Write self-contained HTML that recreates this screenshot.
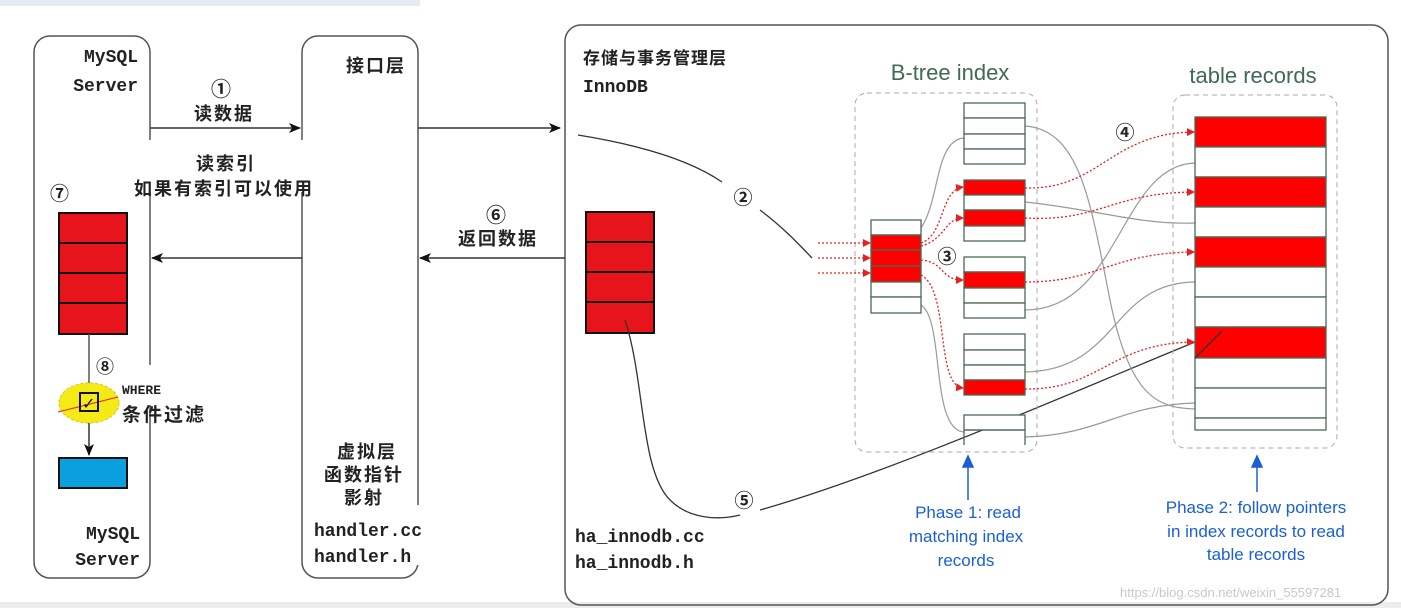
<!DOCTYPE html>
<html><head><meta charset="utf-8"><style>
html,body{margin:0;padding:0;background:#fff;width:1401px;height:608px;overflow:hidden}
svg{display:block}
.cn{font-family:"Liberation Sans","WenQuanYi Zen Hei","Noto Sans CJK SC",sans-serif;font-weight:bold;fill:#222}
.mono{font-family:"Liberation Mono",monospace;font-weight:bold;fill:#222}
.sans{font-family:"Liberation Sans","DejaVu Sans",sans-serif}
</style></head><body>
<svg width="1401" height="608" viewBox="0 0 1401 608" xmlns="http://www.w3.org/2000/svg">
<defs>
<marker id="ab" markerWidth="12" markerHeight="10" refX="11" refY="5" orient="auto" markerUnits="userSpaceOnUse"><path d="M0,0 L12,5 L0,10 L3,5z" fill="#111"/></marker>
<marker id="ar" markerWidth="8" markerHeight="8" refX="7" refY="4" orient="auto" markerUnits="userSpaceOnUse"><path d="M0,0 L8,4 L0,8z" fill="#e82020"/></marker>
</defs>
<rect x="0" y="0" width="420" height="6" fill="#e6ebf3"/>
<rect x="0" y="602" width="1401" height="6" fill="#ececec"/>
<rect x="34" y="36" width="116" height="542" rx="16" fill="none" stroke="#555" stroke-width="1.5"/>
<rect x="302" y="36" width="116" height="542" rx="16" fill="none" stroke="#555" stroke-width="1.5"/>
<rect x="565" y="25" width="823" height="580" rx="16" fill="none" stroke="#555" stroke-width="1.5"/>
<rect x="145" y="140" width="170" height="52" fill="#fff"/>
<rect x="145" y="365" width="80" height="40" fill="#fff"/>
<rect x="410" y="505" width="12" height="60" fill="#fff"/>
<line x1="150" y1="128" x2="300" y2="128" stroke="#333" stroke-width="1.5" marker-end="url(#ab)"/>
<line x1="302" y1="258" x2="152" y2="258" stroke="#333" stroke-width="1.5" marker-end="url(#ab)"/>
<line x1="418" y1="128" x2="560" y2="128" stroke="#333" stroke-width="1.5" marker-end="url(#ab)"/>
<line x1="565" y1="258" x2="420" y2="258" stroke="#333" stroke-width="1.5" marker-end="url(#ab)"/>
<g stroke="#111" stroke-width="2" fill="#e8141c">
<rect x="59" y="213" width="68" height="30"/><rect x="59" y="243" width="68" height="30"/><rect x="59" y="273" width="68" height="30"/><rect x="59" y="303" width="68" height="31"/>
<rect x="586" y="212" width="68" height="30"/><rect x="586" y="242" width="68" height="30"/><rect x="586" y="272" width="68" height="30"/><rect x="586" y="302" width="68" height="31"/>
</g>
<line x1="89" y1="334" x2="89" y2="383" stroke="#555" stroke-width="1.5"/>
<ellipse cx="89" cy="403" rx="30" ry="20" fill="#f4ea16" stroke="#d8c800" stroke-dasharray="3,2"/>
<line x1="58" y1="412" x2="118" y2="397" stroke="#e82020" stroke-width="1"/>
<rect x="80" y="393" width="18" height="18" fill="none" stroke="#111" stroke-width="2"/>
<text x="82" y="409" font-size="16" font-weight="bold" fill="#111" class="sans">✓</text>
<line x1="89" y1="423" x2="89" y2="455" stroke="#333" stroke-width="1.5" marker-end="url(#ab)"/>
<rect x="59" y="458" width="68" height="30" fill="#0aa0e0" stroke="#111" stroke-width="2"/>
<g class="mono" font-size="18" text-anchor="end">
<text x="138" y="62">MySQL</text><text x="138" y="91">Server</text>
<text x="140" y="539">MySQL</text><text x="140" y="565">Server</text>
</g>
<g class="cn" font-size="18" text-anchor="middle" letter-spacing="2">
<text x="222" y="96" font-size="20">①</text><text x="224" y="120">读数据</text>
<text x="226" y="170">读索引</text><text x="224" y="195">如果有索引可以使用</text>
<text x="376" y="72">接口层</text>
<text x="367" y="458">虚拟层</text><text x="364" y="481">函数指针</text><text x="364" y="504">影射</text>
<text x="497" y="222" font-size="20">⑥</text><text x="498" y="245">返回数据</text>
</g>
<text x="50" y="200" class="cn" font-size="19">⑦</text>
<text x="96" y="373" class="cn" font-size="18">⑧</text>
<text x="122" y="394" class="mono" font-size="13">WHERE</text>
<text x="122" y="421" class="cn" font-size="19" letter-spacing="2">条件过滤</text>
<g class="mono" font-size="18"><text x="314" y="536">handler.cc</text><text x="314" y="562">handler.h</text>
<text x="575" y="542">ha_innodb.cc</text><text x="575" y="568">ha_innodb.h</text>
<text x="583" y="92">InnoDB</text></g>
<text x="583" y="64" class="cn" font-size="17" letter-spacing="1">存储与事务管理层</text>
<path d="M578,135 C640,145 690,160 722,182" fill="none" stroke="#333" stroke-width="1.3"/>
<path d="M760,210 C780,225 795,240 812,258" fill="none" stroke="#333" stroke-width="1.3"/>
<text x="743" y="204" class="cn" font-size="19" text-anchor="middle">②</text>
<path d="M625,320 C645,380 640,470 670,500 C690,520 720,520 740,515" fill="none" stroke="#333" stroke-width="1.3"/>
<path d="M760,510 C900,470 1100,380 1222,331" fill="none" stroke="#333" stroke-width="1.3"/>
<text x="744" y="507" class="cn" font-size="19" text-anchor="middle">⑤</text>
<rect x="855" y="93" width="182" height="359" rx="12" fill="none" stroke="#aaa" stroke-dasharray="5,4"/>
<rect x="1173" y="95" width="164" height="353" rx="12" fill="none" stroke="#aaa" stroke-dasharray="5,4"/>
<text x="950" y="80" class="sans" font-size="22" fill="#3f6b52" text-anchor="middle">B-tree index</text>
<text x="1253" y="83" class="sans" font-size="22" fill="#3f6b52" text-anchor="middle">table records</text>
<g fill="none" stroke="#999" stroke-width="1.2">
<path d="M921,228 C940,200 935,140 964,138"/>
<path d="M921,305 C945,320 930,430 964,432"/>
<path d="M1025,126 C1080,130 1090,200 1110,300 C1130,400 1160,408 1195,409"/>
<path d="M1025,202 C1100,210 1140,225 1195,223"/>
<path d="M1025,310 C1120,310 1120,165 1195,163"/>
<path d="M1025,372 C1120,370 1110,283 1195,282"/>
<path d="M1025,437 C1100,435 1120,405 1195,403"/>
</g>
<g stroke="#4a6a55" stroke-width="1.3">
<rect x="871" y="220" width="50" height="15" fill="#fff"/>
<rect x="871" y="235" width="50" height="15" fill="#f00"/><rect x="871" y="250" width="50" height="16" fill="#f00"/><rect x="871" y="266" width="50" height="16" fill="#f00"/>
<rect x="871" y="282" width="50" height="15" fill="#fff"/><rect x="871" y="297" width="50" height="16" fill="#fff"/>
<rect x="964" y="103" width="61" height="15" fill="#fff"/><rect x="964" y="118" width="61" height="16" fill="#fff"/><rect x="964" y="134" width="61" height="15" fill="#fff"/><rect x="964" y="149" width="61" height="15" fill="#fff"/>
<rect x="964" y="180" width="61" height="15" fill="#f00"/><rect x="964" y="195" width="61" height="15" fill="#fff"/><rect x="964" y="210" width="61" height="16" fill="#f00"/><rect x="964" y="226" width="61" height="15" fill="#fff"/>
<rect x="964" y="257" width="61" height="15" fill="#fff"/><rect x="964" y="272" width="61" height="16" fill="#f00"/><rect x="964" y="288" width="61" height="15" fill="#fff"/><rect x="964" y="303" width="61" height="15" fill="#fff"/>
<rect x="964" y="334" width="61" height="16" fill="#fff"/><rect x="964" y="350" width="61" height="15" fill="#fff"/><rect x="964" y="365" width="61" height="15" fill="#fff"/><rect x="964" y="380" width="61" height="15" fill="#f00"/>
<rect x="964" y="415" width="61" height="15" fill="#fff"/><path d="M964,430 V445 M1025,430 V445 M964,430 H1025" fill="none"/>
<rect x="1195" y="117" width="131" height="30" fill="#f00"/><rect x="1195" y="147" width="131" height="30" fill="#fff"/>
<rect x="1195" y="177" width="131" height="30" fill="#f00"/><rect x="1195" y="207" width="131" height="30" fill="#fff"/>
<rect x="1195" y="237" width="131" height="30" fill="#f00"/><rect x="1195" y="267" width="131" height="30" fill="#fff"/>
<rect x="1195" y="297" width="131" height="30" fill="#fff"/><rect x="1195" y="327" width="131" height="31" fill="#f00"/>
<rect x="1195" y="358" width="131" height="30" fill="#fff"/><rect x="1195" y="388" width="131" height="30" fill="#fff"/>
<rect x="1195" y="418" width="131" height="12" fill="#fff"/>
</g>
<line x1="1195" y1="358" x2="1222" y2="331" stroke="#333" stroke-width="1.3"/>
<g fill="none" stroke="#e82020" stroke-width="1.3" stroke-dasharray="2,2" marker-end="url(#ar)">
<line x1="818" y1="243" x2="870" y2="243"/><line x1="818" y1="258" x2="870" y2="258"/><line x1="818" y1="273" x2="870" y2="273"/>
<path d="M921,243 C945,235 940,190 963,187"/>
<path d="M921,246 C945,240 945,218 963,218"/>
<path d="M921,260 C945,262 940,280 963,280"/>
<path d="M921,275 C950,290 935,385 963,388"/>
<path d="M1025,188 C1100,190 1110,133 1194,132"/>
<path d="M1025,218 C1100,222 1110,193 1194,192"/>
<path d="M1025,282 C1100,282 1110,253 1194,252"/>
<path d="M1025,389 C1100,390 1110,343 1194,342"/>
</g>
<text x="947" y="263" class="cn" font-size="19" text-anchor="middle">③</text>
<text x="1125" y="139" class="cn" font-size="19" text-anchor="middle">④</text>
<g stroke="#1a5fd6" stroke-width="1.5">
<line x1="968" y1="500" x2="968" y2="466"/><path d="M963,467 L968,456 L973,467z" fill="#1a5fd6"/>
<line x1="1257" y1="492" x2="1257" y2="466"/><path d="M1252,467 L1257,456 L1262,467z" fill="#1a5fd6"/>
</g>
<g class="sans" font-size="17" fill="#1a5fd6" text-anchor="middle">
<text x="968" y="518">Phase 1: read</text><text x="966" y="542">matching index</text><text x="966" y="566">records</text>
<text x="1256" y="513">Phase 2: follow pointers</text><text x="1256" y="537">in index records to read</text><text x="1256" y="560">table records</text>
</g>
<text x="1120" y="597" class="sans" font-size="13" fill="#c8c8c8">https://blog.csdn.net/weixin_55597281</text>
</svg>
</body></html>
